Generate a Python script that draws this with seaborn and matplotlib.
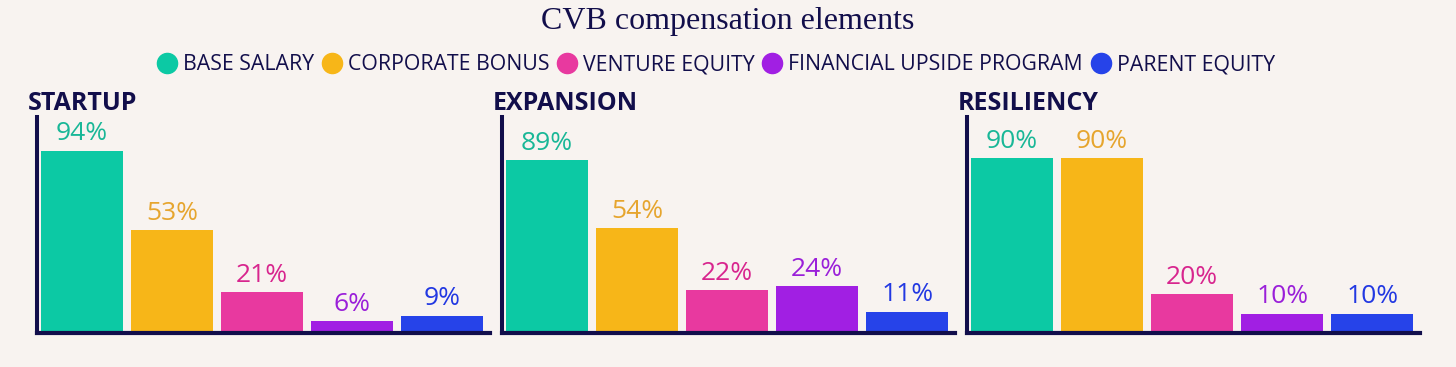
import matplotlib
matplotlib.use("Agg")
import matplotlib.pyplot as plt
from matplotlib.lines import Line2D
import seaborn as sns
import pandas as pd

# ---- data ----
elements = ["BASE SALARY", "CORPORATE BONUS", "VENTURE EQUITY",
            "FINANCIAL UPSIDE PROGRAM", "PARENT EQUITY"]
stages = ["STARTUP", "EXPANSION", "RESILIENCY"]
startup = [94, 53, 21, 6, 9]
expansion = [89, 54, 22, 24, 11]
resiliency = [90, 90, 20, 10, 10]
title = "CVB compensation elements"

bar_colors = ["#0CC9A4", "#F7B618", "#E8399F", "#A11FE3", "#2643E9"]
label_colors = ["#19B797", "#E6A52E", "#D8258E", "#9A1FD9", "#2238E2"]
BG = "#F8F3F0"
NAVY = "#120E4B"

sns.set_theme(style="white")
plt.rcParams["font.family"] = ["Open Sans", "DejaVu Sans"]

rows = []
for stage, vals in zip(stages, [startup, expansion, resiliency]):
    for el, v in zip(elements, vals):
        rows.append({"stage": stage, "element": el, "value": v})
df = pd.DataFrame(rows)

W, H = 1456, 367
fig = plt.figure(figsize=(W / 100, H / 100), dpi=100, facecolor=BG)

lefts = [37, 502, 967]
ax_w = 453
ax_bottom, ax_top = 333, 117
palette = dict(zip(elements, bar_colors))

for stage, lx in zip(stages, lefts):
    ax = fig.add_axes([lx / W, 1 - ax_bottom / H, ax_w / W, (ax_bottom - ax_top) / H])
    ax.set_facecolor(BG)
    sub = df[df["stage"] == stage]
    sns.barplot(data=sub, x="element", y="value", hue="element", order=elements,
                hue_order=elements, palette=palette, width=0.91, saturation=1,
                legend=False, ax=ax, errorbar=None, linewidth=0)
    ax.set_xlim(-0.5, 4.53)
    ax.set_ylim(0, 111.3)
    for cont, col in zip(ax.containers, label_colors):
        ax.bar_label(cont, labels=[f"{int(round(b.get_height()))}%" for b in cont],
                     padding=3.0, color=col, fontsize=19)
    ax.set_xticks([])
    ax.set_yticks([])
    ax.set_xlabel("")
    ax.set_ylabel("")
    for s in ["top", "right"]:
        ax.spines[s].set_visible(False)
    ax.spines["left"].set_color(NAVY)
    ax.spines["left"].set_linewidth(2.9)
    ax.spines["bottom"].set_color(NAVY)
    ax.spines["bottom"].set_linewidth(3.0)
    ax.spines["bottom"].set_capstyle("projecting")
    fig.text((lx - 9) / W, 1 - 109.5 / H, stage, fontsize=18, fontweight="bold",
             color=NAVY, ha="left", va="baseline")

fig.text(0.5, 1 - 29.5 / H, title, family=["Liberation Serif", "DejaVu Serif"],
         fontsize=23, color=NAVY, ha="center", va="baseline")

handles = [Line2D([0], [0], marker="o", linestyle="", markersize=14.5,
                  markerfacecolor=c, markeredgecolor=c) for c in bar_colors]
fig.legend(handles, elements, loc="center", bbox_to_anchor=(715.5 / W, 1 - 65 / H),
           ncol=5, frameon=False, fontsize=15.3, labelcolor=NAVY,
           handlelength=1.0, handletextpad=0.25, columnspacing=0.34,
           borderaxespad=0, borderpad=0)

fig.savefig("out.png", dpi=100, facecolor=BG)
